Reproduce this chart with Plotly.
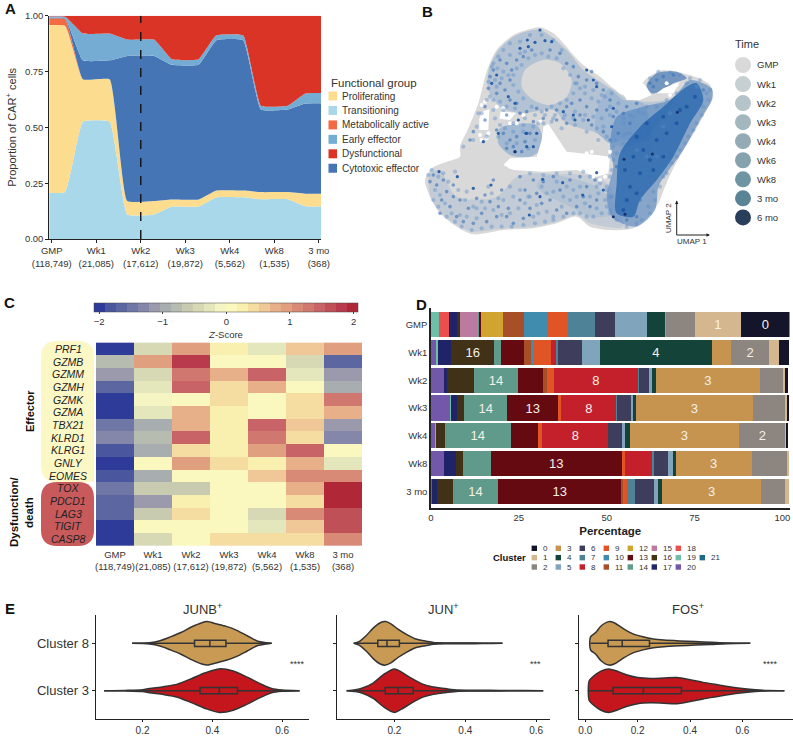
import plotly.graph_objects as go

W, H = 793, 736
FONT = "Liberation Sans"
INK = "#333333"

# ---------- Panel A ----------
time_a = ["GMP<br>(118,749)", "Wk1<br>(21,085)", "Wk2<br>(17,612)", "Wk3<br>(19,872)", "Wk4<br>(5,562)", "Wk8<br>(1,535)", "3 mo<br>(368)"]
transitioning = [.21, .525, .11, .145, .187, .178, .147]
proliferating = [.745, .19, .06, .032, .03, .032, .056]
metabolic = [.03, 0, 0, 0, 0, 0, 0]
cytotoxic = [.003, .085, .65, .603, .673, .37, .404]
early = [.007, .12, .073, .025, .022, .017, .045]
dysfunctional = [.005, .08, .107, .195, .088, .403, .348]
a_series = [("Transitioning", transitioning, "#a9d8ea"), ("Proliferating", proliferating, "#fcdc8f"),
            ("Metabolically active", metabolic, "#f26b43"), ("Cytotoxic effector", cytotoxic, "#4575b4"),
            ("Early effector", early, "#74acd4"), ("Dysfunctional", dysfunctional, "#d93426")]
a_legend = ["Proliferating", "Transitioning", "Metabolically active", "Early effector", "Dysfunctional", "Cytotoxic effector"]
a_colors = {n: c for n, _, c in a_series}

# ---------- Panel B (UMAP outlines and cells) ----------
sil_x = [390,430,465,490,520,570,610,640,680,705,750,800,860,900,910,890,860,820,785,765,745,715,670,600,540,500,440,370,280,190,140,90,60,45,65,110,150,150,175,205,230,260,310,350]
sil_y = [82,100,135,165,195,230,265,285,275,240,212,215,232,255,290,330,385,450,515,560,610,650,685,690,680,650,670,685,690,703,680,640,590,540,505,485,470,440,385,310,215,150,105,90]
ring_x = [390,470,520,600,640,700,720,640,600,560,470,430,330,270,235,235,265,320]
ring_y = [90,150,210,265,300,310,420,420,430,400,370,330,340,320,270,215,150,105]
bridge_x = [600,640,700,770,800,700,640,600,560,560]
bridge_y = [265,290,305,300,290,420,440,430,400,330]
fan_x = [60,90,140,260,320,400,560,620,640,540,500,440,370,280,190,140,90,60]
fan_y = [520,510,590,590,530,520,560,620,680,670,645,665,680,685,695,675,635,585]
fan2_x = [400,560,600,620,540,480,420,380]
fan2_y = [530,530,560,640,650,620,590,560]
patch_x = [270,380,400,360,300,265]
patch_y = [385,375,440,470,465,430]
right_x = [840,905,905,870,820,770,745,735,680,610,590,610,600,620,700,780,810]
right_y = [240,265,300,360,450,520,560,630,680,655,590,500,440,350,320,300,270]
core_x = [860,880,840,790,740,690,670,620,620,630,690,760,830]
core_y = [250,300,370,470,540,600,650,640,550,460,380,320,260]
nub_x = [710,740,800,830,790,760,725]
nub_y = [255,220,215,235,250,270,280]
circle_x = [400,450,485,470,420,370,335,345]
circle_y = [180,190,240,290,315,300,260,210]
blob_x = [420,480,560,590,590,520,470,430]
blob_y = [400,390,400,430,460,465,455,420]
gap_x = [415,470,560,600,595,560,500,400,310,280,300,380,395,400]
gap_y = [372,455,465,470,520,530,510,515,510,495,475,470,420,380]
hole1_x = [215,238,235,208,208]
hole1_y = [335,328,390,390,358]
hole2_x = [272,318,300,268]
hole2_y = [335,338,360,356]
hole3_x = [760,810,790,740]
hole3_y = [265,245,280,280]
hole4_x = [640,700,725,690,650]
hole4_y = [283,250,285,300,300]
fleck_x = [215,225,235,210,280,300,340,320,390,560,575,590,550,780,800,770,230,215,545,530,570,585,600,300,260]
fleck_y = [315,305,400,405,325,370,345,370,365,485,505,480,530,285,255,250,415,420,455,460,540,530,455,500,320]
pale_x = [250,262,280,295,255,275,310,320,335,345,375,395,415,440,460,480,495,510,525,545,565,585,605,625,600,575,550,525,495,465,435,405,375,345,315,290,270,250,240,230,215,200,255,270,310,340,385,425,455,495,530,565,590,640,670,700,660,640,620,
          75,90,105,125,150,170,200,225,250,275,300,325,345,370,385,410,430,455,480,500,525,550,575,590,565,540,510,490,460,430,410,395,360,310,280,245,215,190,165,145,115,85,440,470,540,570,590,
          740,770,800,830,860,890,880,860,835,810,785,760,730,715,695,600,605,600,610,650,680,710,740,760,780,
          300,330,360,395,430,455,280,265,300,330,355,245,235,260,310,325,340,365,395,425,450,470,490,500,525,550,575,600,620,640,660,685,710,640,615,580,560,520,490,460,430,400,370,340,310,285,265,290,320,355,375,230,190,160,205,250,280,
          610,600,605,590,585,600,620,650,680,720,735,750,770,800,825,850,875,895,900,870,840,720,745,780,810,
          70,85,110,135,155,185,215,245,275,305,340,375,405,430,460,490,510,530,560,380,355,330,300,265,235,200,170,55,65,100,135,360,400,440,480,520,560,600]
pale_y = [190,205,215,225,240,235,225,205,195,155,165,160,170,175,205,225,250,265,280,295,305,290,280,310,345,355,350,345,335,345,345,345,345,355,325,320,305,300,290,300,340,380,355,375,370,375,370,365,385,375,395,420,410,370,350,340,400,430,460,
          570,585,610,640,645,650,655,625,630,645,640,625,610,650,640,635,650,620,600,590,610,650,640,620,580,590,560,570,590,575,580,560,590,590,600,580,605,620,600,570,545,530,545,560,530,550,570,
          320,300,280,250,260,280,320,370,410,450,490,530,575,620,660,640,590,530,480,400,450,470,470,380,340,
          130,125,105,105,120,150,150,170,165,160,175,200,245,260,255,275,295,320,335,320,310,300,280,250,260,270,285,320,335,355,345,335,320,405,420,380,385,360,355,355,355,370,380,395,395,385,410,430,430,445,420,410,420,440,340,330,330,
          440,470,510,560,600,630,660,680,670,640,600,560,520,470,430,390,345,300,270,240,235,235,215,218,225,
          600,620,650,665,680,690,685,680,680,680,675,670,665,660,650,640,640,650,625,615,590,570,560,595,560,625,575,525,510,520,515,520,525,520,520,515,560,590]
mid_x = [290,305,270,250,240,270,285,300,320,340,365,420,450,470,490,505,530,545,560,580,600,590,560,530,510,485,470,440,410,380,350,320,300,260,235,225,190,180,225,290,330,370,400,440,470,510,545,580,610,640,650,680,600,625,660,
         70,60,80,100,110,95,120,140,160,190,215,240,265,290,310,340,360,395,380,345,330,295,260,230,175,150,130,420,440,470,500,520,540,560,450,480,430,400,370,330,510,530,555,250,225,275,200,130,90,
         280,300,320,345,310,335,290,360,260,
         650,640,660,690,700,720,750,780,800,830,850,870,880,840,800,760,730,700,670,640,620,630,720,760,700,670,620,650,680,790,820,740,730,760,790,720]
mid_y = [190,210,180,210,230,250,270,240,180,170,150,150,160,190,200,230,240,215,250,270,300,330,330,320,300,310,320,330,330,325,335,310,300,280,265,320,395,420,360,345,340,365,355,360,370,345,375,395,350,340,320,310,420,400,370,
         525,545,555,540,575,600,620,650,665,670,640,605,620,650,670,655,625,610,580,570,600,625,650,665,625,600,590,600,630,640,620,590,620,600,570,540,530,545,540,530,530,560,540,540,585,570,595,555,640,
         400,420,410,425,440,455,445,400,390,
         560,590,610,600,560,530,500,460,420,380,340,300,270,270,310,330,360,400,430,450,500,540,440,420,500,520,620,660,650,370,320,240,260,230,225,250]
core_dot_x = [700,720,690,660,650,640,680,740,770,800,830,855,760,730,710,670,645,680,760,810]
core_dot_y = [450,480,520,560,600,630,580,420,400,370,320,290,470,510,370,470,510,410,350,330]
dark_x = [375,405,425,330,352,355,390,260,245,295,315,460,490,495,535,610,605,350,325,530,550,560,87,142,243,190,398,458,518,358,390,315,348,380,265,220,350,370,560,580]
dark_y = [127,122,125,145,120,140,90,225,250,290,310,335,345,360,360,325,380,400,360,210,240,260,515,530,555,565,538,548,585,645,590,455,400,400,400,425,440,440,518,570]
navy_x = [802,727,642,645,610,315]
navy_y = [337,462,478,643,650,455]
time_labels = ["GMP", "Wk1", "Wk2", "Wk3", "Wk4", "Wk6", "Wk8", "3 mo", "6 mo"]
time_colors = ["#d9d9d9", "#c6cfd1", "#b4c4c8", "#a3b8be", "#94abb5", "#86a2ac", "#6f95a4", "#598496", "#283e5a"]

# ---------- Panel C ----------
genes = ["PRF1", "GZMB", "GZMM", "GZMH", "GZMK", "GZMA", "TBX21", "KLRD1", "KLRG1", "GNLY", "EOMES", "TOX", "PDCD1", "LAG3", "TIGIT", "CASP8"]
z_scores = [
    [-2, -.5, 1.0, .25, -.25, .65, 1.0],
    [-.85, 1.0, 1.75, 0, 0, -.45, -1.6],
    [-1.2, -.5, 1.3, .8, 1.5, -.25, -1.2],
    [-1.6, -.3, 1.5, .45, .8, 0, -1.0],
    [-2, -.05, 0, .45, 0, .45, 1.3],
    [-2, -.25, .8, .25, 0, .4, .75],
    [-1.4, -.9, .8, .25, 1.5, .6, -1.2],
    [-1.25, -.7, 1.55, .25, 1.3, .4, -1.25],
    [-1.85, -.9, .45, .25, .9, 1.55, 0],
    [-2, 0, 1.0, .4, .3, .8, -.3],
    [-1.9, -.9, 0, 0, .65, 1.1, 1.05],
    [-1.45, -.6, -.6, 0, 0, .8, 2],
    [-1.6, -1.05, .2, 0, 0, .4, 2],
    [-1.7, -.65, .4, 0, -.45, 1.15, 1.6],
    [-2, 0, 0, 0, -.25, .65, 1.6],
    [-2, -.45, 0, .45, .45, .45, 1.05],
]
z_colors = ["#2f3b98", "#4a579f", "#5c67a2", "#6f77a6", "#8486aa", "#9a9aac", "#a8adb0", "#b7bcb0", "#c8cbb0", "#d6d9b4", "#e4e7bc", "#f4f5c2",
            "#fbf8bf", "#f9f0b0", "#f5dca0", "#f0c898", "#e8b088", "#e0a080", "#d88a76", "#d07870", "#c86468", "#c05058", "#b83a4c", "#b02838"]

# ---------- Panel D ----------
rows_d = ["GMP", "Wk1", "Wk2", "Wk3", "Wk4", "Wk8", "3 mo"]
# widths read against the drawn axis, one value per row
c0 = [13.85, 2.66, .95, .28, .47, 0, 0]
c1 = [13.09, 2.94, .57, .85, .28, .57, .95]
c2 = [8.16, 10.81, 6.45, 8.91, 13.09, 9.96, 6.83]
c3 = [.28, 5.5, 29.59, 33.48, 31.2, 21.62, 28.26]
c4 = [5.22, 31.77, 1.04, .47, 1.42, .47, 1.14]
c5 = [9.2, 5.03, .85, .95, .47, 1.61, 1.14]
c6 = [5.69, 6.83, 2.94, 3.89, 4.17, 4.08, 5.5]
c7 = [7.68, .57, .28, .19, 0, .28, 2.28]
c8 = [0, 1.61, 23.99, 15.65, 18.78, 8.06, 0]
c9 = [5.69, 5.12, 1.9, .85, 1.23, .76, 1.04]
c10 = [6.73, .47, 0, 0, 0, 0, 0]
c11 = [5.88, 2.09, 1.04, 0, 0, 0, .57]
c12 = [6.35, 0, 0, 0, 0, 0, 0]
c13 = [.28, 6.45, 7.21, 14.6, 7.78, 37.36, 34.9]
c14 = [.28, 1.9, 12.52, 12.14, 18.78, 7.78, 12.99]
c15 = [5.31, 0, 0, 0, 0, 0, 0]
c16 = [.85, 12.33, 7.59, 2.18, 2.37, 1.99, 4.46]
c17 = [2.37, 3.7, .95, 1.61, 0, 3.41, 1.33]
c18 = [2.94, 0, 0, 0, 0, 0, 0]
c19 = [2.18, .47, 0, .28, .28, 0, 0]
c20 = [0, 1.52, 3.7, 5.41, 1.23, 3.79, .38]
c21 = [0, 0, 0, 0, 0, 0, 0]
cluster_values = [c0, c1, c2, c3, c4, c5, c6, c7, c8, c9, c10, c11, c12, c13, c14, c15, c16, c17, c18, c19, c20, c21]
cluster_colors = ["#14142b", "#d4b78f", "#8c8580", "#c79450", "#14433a", "#7fa4bb", "#3f3d5c", "#4d8297", "#c4202b", "#e05426", "#3f8cae",
                  "#a94f28", "#cfa52f", "#650a11", "#5f9a8a", "#bd7aa0", "#413117", "#1f2468", "#ec4f4b", "#6fbfa8", "#7357a8", "#1f6a84"]
labelled = {0: [0], 1: [0], 2: [1, 4], 3: [2, 3, 4, 5, 6], 4: [1], 8: [2, 3, 4], 13: [3, 5, 6], 14: [2, 3, 4, 6], 16: [1]}

# ---------- Panel E ----------
junb8_x = [.17, .22, .25, .28, .31, .34, .37, .385, .41, .44, .47, .5, .53, .555, .57]
junb8_d = [0, .03, .12, .3, .5, .75, .95, 1, .9, .78, .6, .35, .1, .03, 0]
junb3_x = [.09, .15, .2, .22, .26, .3, .34, .38, .42, .46, .5, .54, .57, .6, .65]
junb3_d = [0, .01, .04, .1, .18, .3, .55, .82, 1, .9, .62, .3, .1, .03, 0]
jun8_x = [.085, .1, .12, .14, .16, .175, .19, .21, .235, .26, .29, .31, .35, .4, .45, .505]
jun8_d = [0, .08, .35, .7, .95, 1, .9, .65, .4, .2, .1, .04, .02, .015, .01, 0]
jun3_x = [.065, .09, .11, .14, .17, .2, .22, .25, .28, .31, .35, .38, .42, .47, .52, .62]
jun3_d = [0, .04, .12, .35, .75, 1, .85, .55, .3, .17, .08, .03, .02, .015, .01, 0]
fos8_x = [.02, .04, .06, .09, .11, .14, .18, .22, .26, .3, .36, .42, .48, .54, .63]
fos8_d = [.3, .5, .8, 1, .95, .72, .45, .3, .2, .15, .11, .08, .05, .015, 0]
fos3_x = [.015, .03, .06, .09, .12, .16, .2, .25, .3, .35, .4, .45, .5, .55, .6, .65, .7, .76]
fos3_d = [.45, .65, .9, 1, .9, .72, .6, .56, .58, .6, .5, .38, .28, .18, .1, .04, .01, 0]
# q1, median, q3, lower whisker, upper whisker
junb8_box = [.349, .393, .439, .17, .57]
junb3_box = [.365, .42, .472, .09, .65]
jun8_box = [.153, .179, .214, .085, .505]
jun3_box = [.174, .21, .253, .065, .62]
fos8_box = [.087, .141, .245, .02, .63]
fos3_box = [.106, .222, .367, .01, .76]
violin_panels = [("JUNB", junb8_x, junb8_d, junb8_box, junb3_x, junb3_d, junb3_box, "****"),
                 ("JUN", jun8_x, jun8_d, jun8_box, jun3_x, jun3_d, jun3_box, "***"),
                 ("FOS", fos8_x, fos8_d, fos8_box, fos3_x, fos3_d, fos3_box, "****")]
violin_boxes_px = [(95.6, 309, .0655, .677, 297), (337.4, 550.3, .039, .64, 535), (579, 793, -.024, .793, 770)]
violin_ticks = [[.2, .4, .6], [.2, .4, .6], [0, .2, .4, .6]]


def xd(a, b):
    return [a / W, b / W]


def yd(top, bottom):
    return [1 - bottom / H, 1 - top / H]


def px(x):
    return x / W


def py(y):
    return 1 - y / H


fig = go.Figure()
anns, shapes = [], []


def text(x, y, s, size=10, color=INK, bold=False, anchor="left", angle=0):
    anns.append(dict(x=px(x), y=py(y), xref="paper", yref="paper", text=f"<b>{s}</b>" if bold else s, showarrow=False,
                     font=dict(family=FONT, size=size, color=color), xanchor=anchor, yanchor="middle", textangle=angle))


for name, x, y in [("A", 3, 9), ("B", 420, 11), ("C", 2, 302), ("D", 414, 304), ("E", 3, 608)]:
    text(x, y, name, size=15, color="#111", bold=True)

# A
plateau = .3
a_x = []
for i in range(len(time_a)):
    a_x += [i - plateau, i + plateau]
for name, vals, col in a_series:
    a_y = []
    for v in vals:
        a_y += [v, v]
    fig.add_trace(go.Scatter(x=a_x, y=a_y, name=name, stackgroup="a", mode="lines", line=dict(width=0, shape="spline", smoothing=.35),
                             fillcolor=col, showlegend=False, xaxis="x", yaxis="y"))
ax_common = dict(showgrid=False, zeroline=False, showline=True, linecolor="#222", linewidth=1, ticks="outside", ticklen=3, tickcolor="#222",
                 tickfont=dict(family=FONT, size=9.5, color=INK))
fig.update_layout(
    xaxis=dict(domain=xd(49.3, 321), range=[-.055, 6.05], tickmode="array", tickvals=list(range(7)), ticktext=time_a, tickangle=0, anchor="y", **ax_common),
    yaxis=dict(domain=yd(15.7, 239), range=[0, 1], tickmode="array", tickvals=[0, .25, .5, .75, 1], ticktext=["0.00", "0.25", "0.50", "0.75", "1.00"],
               anchor="x", title=dict(text="Proportion of CAR<sup>+</sup> cells", font=dict(family=FONT, size=11, color=INK), standoff=6), **ax_common))
shapes.append(dict(type="line", xref="x", yref="y", x0=2, x1=2, y0=0, y1=1, line=dict(color="#111", width=1.4, dash="dash")))
text(329, 83, "Functional group", size=11.5)
for i, n in enumerate(a_legend):
    yy = 96 + i * 14.45
    shapes.append(dict(type="rect", xref="paper", yref="paper", x0=px(328.5), x1=px(337), y0=py(yy - 4.5), y1=py(yy + 4.5), fillcolor=a_colors[n], line_width=0))
    text(340, yy, n, size=10)

# B
b_ax = dict(domain=xd(410, 793), range=[0, 1149], visible=False, anchor="y2")
fig.update_layout(xaxis2=b_ax, yaxis2=dict(domain=yd(0, 290), range=[870, 0], visible=False, anchor="x2"))


def poly(xs, ys, col, name, smooth=True):
    fig.add_trace(go.Scatter(x=xs + xs[:1], y=ys + ys[:1], fill="toself", mode="lines", fillcolor=col, name=name, showlegend=False,
                             line=dict(width=0, shape="spline" if smooth else "linear", smoothing=.8), hoverinfo="skip", xaxis="x2", yaxis="y2"))


poly(sil_x, sil_y, "#d9d9d9", "GMP")
poly(ring_x, ring_y, "rgba(120,160,205,.38)", "ring")
poly(bridge_x, bridge_y, "rgba(120,160,205,.3)", "bridge")
poly(fan_x, fan_y, "rgba(120,160,205,.22)", "fan")
poly(fan2_x, fan2_y, "rgba(120,160,205,.2)", "fan2")
poly(patch_x, patch_y, "rgba(90,140,200,.42)", "patch")
poly(circle_x, circle_y, "#d9d9d9", "circle")
poly(blob_x, blob_y, "#d9d9d9", "blob")
poly(right_x, right_y, "rgba(80,130,190,.6)", "right")
poly(nub_x, nub_y, "rgba(60,115,180,.65)", "nub")
poly(core_x, core_y, "rgba(30,95,170,.7)", "core")
for hx, hy in [(gap_x, gap_y), (hole1_x, hole1_y), (hole2_x, hole2_y), (hole3_x, hole3_y), (hole4_x, hole4_y)]:
    poly(hx, hy, "#ffffff", "gap", smooth=False)
fig.add_trace(go.Scatter(x=fleck_x, y=fleck_y, mode="markers", marker=dict(size=4, color="#ffffff"), showlegend=False, xaxis="x2", yaxis="y2", name="gap"))
fig.add_trace(go.Scatter(x=pale_x, y=pale_y, mode="markers", marker=dict(size=4.2, color="rgba(90,140,200,.42)"), showlegend=False, xaxis="x2", yaxis="y2", name="cells"))
fig.add_trace(go.Scatter(x=mid_x, y=mid_y, mode="markers", marker=dict(size=3.6, color="rgba(60,115,185,.62)"), showlegend=False, xaxis="x2", yaxis="y2", name="cells"))
fig.add_trace(go.Scatter(x=core_dot_x, y=core_dot_y, mode="markers", marker=dict(size=4, color="rgba(20,80,160,.7)"), showlegend=False, xaxis="x2", yaxis="y2", name="cells"))
fig.add_trace(go.Scatter(x=dark_x, y=dark_y, mode="markers", marker=dict(size=3.2, color="rgba(25,85,165,.9)"), showlegend=False, xaxis="x2", yaxis="y2", name="cells"))
fig.add_trace(go.Scatter(x=navy_x, y=navy_y, mode="markers", marker=dict(size=3, color="#1c2f6b"), showlegend=False, xaxis="x2", yaxis="y2", name="6 mo"))
text(733, 44, "Time", size=11)
for i, (n, c) in enumerate(zip(time_labels, time_colors)):
    yy = 65 + i * 19.05
    shapes.append(dict(type="circle", xref="paper", yref="paper", x0=px(735), x1=px(751), y0=py(yy - 8), y1=py(yy + 8), fillcolor=c, line_width=0))
    text(755, yy, n, size=9.5)
# UMAP arrows
shapes.append(dict(type="path", xref="paper", yref="paper", line=dict(color="#222", width=1),
                   path=f"M{px(676.7)},{py(201)} L{px(676.7)},{py(235)} L{px(709)},{py(235)}"))
shapes.append(dict(type="path", xref="paper", yref="paper", fillcolor="#222", line_width=0,
                   path=f"M{px(710)},{py(235)} L{px(706.5)},{py(233.3)} L{px(706.5)},{py(236.7)} Z"))
shapes.append(dict(type="path", xref="paper", yref="paper", fillcolor="#222", line_width=0,
                   path=f"M{px(676.7)},{py(200.5)} L{px(675)},{py(204)} L{px(678.4)},{py(204)} Z"))
text(692, 241.5, "UMAP 1", size=8, anchor="center")
text(668, 218, "UMAP 2", size=8, anchor="center", angle=-90)

# C
shapes.append(dict(type="path", xref="paper", yref="paper", fillcolor="#fbf8c6", line_width=0,
                   path=f"M{px(57)},{py(341)} L{px(78)},{py(341)} Q{px(94)},{py(341)} {px(94)},{py(357)} L{px(94)},{py(482)} L{px(57)},{py(482)} Q{px(41)},{py(482)} {px(41)},{py(466)} L{px(41)},{py(357)} Q{px(41)},{py(341)} {px(57)},{py(341)} Z"))
shapes.append(dict(type="path", xref="paper", yref="paper", fillcolor="#c85a5c", line_width=0,
                   path=f"M{px(57)},{py(482)} L{px(78)},{py(482)} Q{px(94)},{py(482)} {px(94)},{py(498)} L{px(94)},{py(530)} Q{px(94)},{py(546)} {px(78)},{py(546)} L{px(57)},{py(546)} Q{px(41)},{py(546)} {px(41)},{py(530)} L{px(41)},{py(498)} Q{px(41)},{py(482)} {px(57)},{py(482)} Z"))
zmin, zmax = -2.08, 2.07
n = len(z_colors)
scale = []
for i, c in enumerate(z_colors):
    scale += [[i / n, c], [(i + 1) / n, c]]
fig.add_trace(go.Heatmap(z=z_scores, x=list(range(7)), y=genes, zmin=zmin, zmax=zmax, colorscale=scale, xaxis="x3", yaxis="y3", name="Z-Score",
                         colorbar=dict(orientation="h", x=px(94), xanchor="left", y=py(303), yanchor="top", len=264, lenmode="pixels", thickness=8.5,
                                       xpad=0, ypad=0, outlinewidth=.5, outlinecolor="#444", tickmode="array", tickvals=[-2, -1, 0, 1, 2], ticktext=["−2", "−1", "0", "1", "2"],
                                       ticks="outside", ticklen=2, tickfont=dict(family=FONT, size=9.5, color=INK),
                                       title=dict(text="<i>Z</i>-Score", side="bottom", font=dict(family=FONT, size=9.5, color=INK)))))
fig.update_layout(
    xaxis3=dict(domain=xd(96, 362), range=[-.5, 6.5], anchor="y3", tickmode="array", tickvals=list(range(7)), ticktext=time_a, tickangle=0, showgrid=False, zeroline=False,
                showline=False, ticks="", tickfont=dict(family=FONT, size=9.5, color=INK)),
    yaxis3=dict(domain=yd(341, 547), autorange="reversed", anchor="x3", showticklabels=False, ticks="", showgrid=False, zeroline=False, showline=False))
for g in genes:
    anns.append(dict(x=px(68), y=g, xref="paper", yref="y3", text=f"<i>{g}</i>", showarrow=False, font=dict(family=FONT, size=10.5, color="#222"), xanchor="center", yanchor="middle"))
text(30, 411, "Effector", size=11, bold=True, anchor="center", angle=-90, color="#111")
text(14, 512, "Dysfunction/", size=11.5, bold=True, anchor="center", angle=-90, color="#111")
text(29, 512, "death", size=11.5, bold=True, anchor="center", angle=-90, color="#111")

# D
for k, vals in enumerate(reversed(cluster_values)):
    cid = len(cluster_values) - 1 - k
    labels = [str(cid) if r in labelled.get(cid, []) else "" for r in range(len(rows_d))]
    fig.add_trace(go.Bar(y=rows_d, x=vals, name=str(cid), orientation="h", marker=dict(color=cluster_colors[cid], line_width=0), width=.905, text=labels,
                         textposition="inside", insidetextanchor="middle", textangle=0, constraintext="none",
                         insidetextfont=dict(family=FONT, size=13, color="#f4f0e8"), showlegend=False, xaxis="x4", yaxis="y4"))
fig.update_layout(
    barmode="stack",
    xaxis4=dict(domain=xd(431, 789.5), range=[0, 102], tickmode="array", tickvals=[0, 25, 50, 75, 100], anchor="y4", showgrid=False, zeroline=False, showline=True,
                linecolor="#222", linewidth=1.5, ticks="", tickfont=dict(family=FONT, size=9.5, color=INK),
                title=dict(text="<b>Percentage</b>", font=dict(family=FONT, size=11.5, color="#222"), standoff=5)),
    yaxis4=dict(domain=yd(308, 508), range=[6.6, -.6], tickmode="array", tickvals=list(range(7)), ticktext=rows_d, anchor="x4", showgrid=False, zeroline=False,
                showline=True, linecolor="#222", linewidth=1.5, ticks="", tickfont=dict(family=FONT, size=9.5, color=INK)))
text(509, 557, "Cluster", size=9.5, bold=True, anchor="center", color="#111")
for cid, col in enumerate(cluster_colors):
    if cid == 21:
        c_col, c_row = 7, 1
    else:
        c_col, c_row = cid // 3, cid % 3
    cx = 534.3 + 24 * c_col
    cy = 548.3 + 9.35 * c_row
    shapes.append(dict(type="rect", xref="paper", yref="paper", x0=px(cx - 2.7), x1=px(cx + 2.7), y0=py(cy - 2.7), y1=py(cy + 2.7), fillcolor=col, line_width=0))
    text(cx + 7, cy, str(cid), size=8)

# E
for j, (title, x8, d8, b8, x3, d3, b3, stars) in enumerate(violin_panels):
    xn, yn = f"x{5 + j}", f"y{5 + j}"
    xo, yo = f"x{8 + j}", f"y{8 + j}"
    left, right, lo, hi, star_x = violin_boxes_px[j]
    half = .46
    for base, xs, ds, col, box in [(1, x8, d8, "#c99a53", b8), (0, x3, d3, "#c4161c", b3)]:
        vx = xs + xs[::-1]
        vy = [base + half * d for d in ds] + [base - half * d for d in ds[::-1]]
        fig.add_trace(go.Scatter(x=vx + vx[:1], y=vy + vy[:1], fill="toself", fillcolor=col, mode="lines", line=dict(color="#333", width=1.5, shape="spline", smoothing=.8),
                                 showlegend=False, xaxis=xn, yaxis=yn, name=title))
        fig.add_trace(go.Box(y=[base], q1=[box[0]], median=[box[1]], q3=[box[2]], lowerfence=[box[3]], upperfence=[box[4]], orientation="h", width=.13, whiskerwidth=0,
                             boxpoints=False, fillcolor="rgba(0,0,0,0)", line=dict(color="#333", width=1.5), showlegend=False, xaxis=xo, yaxis=yo, name=title))
    fig.layout[f"xaxis{5 + j}"] = dict(domain=xd(left, right), range=[lo, hi], anchor=yn, tickmode="array", tickvals=violin_ticks[j], ticklabelstandoff=0,
                                       ticktext=[f"{t:.1f}" for t in violin_ticks[j]], tickangle=0, **{**ax_common, "ticklen": 2, "tickfont": dict(family=FONT, size=10, color=INK)})
    fig.layout[f"yaxis{5 + j}"] = dict(domain=yd(615, 719), range=[-.6, 1.6], anchor=xn, tickmode="array", tickvals=[0, 1],
                                       ticktext=["Cluster 3", "Cluster 8"], showticklabels=j == 0, **{**ax_common, "tickfont": dict(family=FONT, size=13, color=INK)})
    fig.layout[f"xaxis{8 + j}"] = dict(overlaying=xn, range=[lo, hi], anchor=yo, visible=False)
    fig.layout[f"yaxis{8 + j}"] = dict(overlaying=yn, range=[-.6, 1.6], anchor=xo, visible=False)
    text((left + right) / 2 + (2 if j == 2 else 0), 609, f"{title}<sup>+</sup>", size=13, anchor="center")
    text(star_x, 664, stars, size=9, anchor="center")

fig.update_layout(width=W, height=H, autosize=False, margin=dict(l=0, r=0, t=0, b=0, autoexpand=False), paper_bgcolor="white", plot_bgcolor="white",
                  font=dict(family=FONT, color=INK), annotations=anns, shapes=shapes, showlegend=False)
fig.write_html("out.html", config={"displayModeBar": False}, post_script="document.body.style.margin='0';document.documentElement.style.overflow='hidden';")
